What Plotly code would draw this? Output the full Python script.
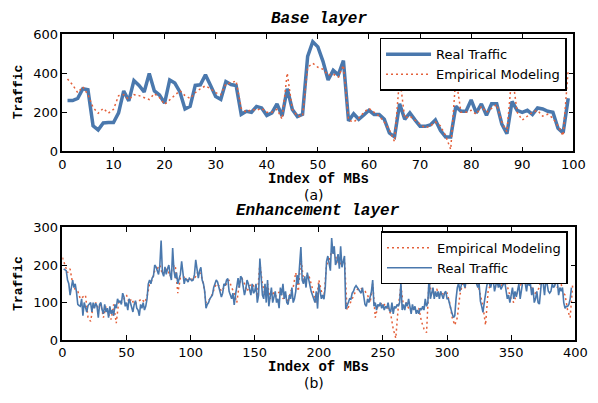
import plotly.graph_objects as go

W, H = 598, 403

# ---------------- data ----------------
base_real = [260, 260, 271, 320, 315, 131, 110, 145, 148, 148,
             197, 309, 258, 362, 337, 304, 398, 309, 288, 247,
             365, 349, 304, 217, 230, 337, 340, 391, 337, 280,
             266, 357, 342, 337, 189, 205, 200, 230, 222, 184,
             197, 243, 181, 320, 214, 178, 189, 485, 560, 534,
             460, 365, 414, 391, 464, 156, 192, 164, 186, 210,
             189, 189, 164, 94, 74, 243, 164, 197, 161, 128,
             128, 135, 161, 107, 74, 74, 230, 205, 205, 263,
             197, 243, 184, 243, 243, 140, 90, 255, 210, 200,
             210, 189, 222, 217, 205, 200, 118, 95, 271]

base_emp = [370, 340, 300, 330, 290, 225, 195, 220, 195, 215,
            285, 290, 265, 290, 285, 275, 265, 295, 275, 240,
            265, 285, 310, 285, 270, 300, 320, 335, 320, 300,
            290, 345, 350, 360, 220, 200, 215, 210, 220, 200,
            200, 215, 165, 400, 215, 180, 180, 430, 450, 430,
            420, 390, 395, 380, 440, 160, 150, 170, 200, 220,
            200, 180, 150, 110, 50, 380, 170, 180, 160, 140,
            120, 130, 150, 130, 80, 10, 380, 200, 200, 210,
            190, 230, 200, 220, 240, 150, 100, 400, 200, 160,
            180, 200, 210, 180, 190, 170, 130, 80, 420]

enh_real = [190, 188, 185, 160, 150, 120, 145, 160, 140, 150, 128, 95, 92, 90, 110, 65, 100, 88, 75, 92,
            95, 100, 75, 100, 85, 98, 90, 60, 95, 100, 80, 70, 95, 75, 85, 60, 90, 70, 80, 65,
            95, 85, 110, 100, 105, 95, 125, 115, 90, 100, 80, 110, 100, 90, 75, 95, 105, 85, 80, 65,
            95, 85, 100, 80, 90, 110, 150, 160, 150, 165, 170, 200, 195, 185, 175, 200, 265, 180, 170, 195,
            175, 190, 200, 175, 160, 245, 185, 165, 180, 150, 160, 175, 210, 170, 150, 165, 160, 155, 165, 160,
            158, 160, 175, 214, 180, 165, 185, 194, 160, 150, 130, 85, 95, 100, 110, 115, 120, 140, 150, 160,
            155, 140, 130, 115, 125, 150, 145, 160, 164, 130, 120, 110, 125, 94, 120, 150, 165, 140, 170, 165,
            140, 120, 135, 160, 150, 130, 120, 150, 125, 130, 150, 100, 120, 217, 150, 120, 110, 150, 100, 160,
            90, 110, 140, 100, 120, 130, 100, 110, 85, 140, 120, 150, 110, 130, 100, 95, 120, 110, 140, 100,
            110, 130, 173, 150, 200, 248, 160, 150, 170, 140, 180, 160, 150, 130, 120, 110, 100, 130, 84, 150,
            130, 110, 120, 109, 140, 210, 224, 200, 185, 272, 230, 250, 200, 210, 229, 190, 250, 194, 210, 224,
            83, 95, 100, 110, 109, 125, 130, 140, 145, 140, 135, 130, 125, 140, 120, 95, 90, 110, 100, 115,
            130, 160, 90, 100, 80, 95, 90, 100, 85, 95, 80, 90, 85, 100, 80, 75, 100, 70, 90, 85,
            95, 90, 100, 152, 80, 95, 80, 100, 90, 110, 85, 70, 95, 80, 90, 70, 80, 70, 85, 80,
            90, 80, 110, 90, 100, 168, 110, 130, 140, 110, 130, 115, 130, 110, 130, 120, 110, 125, 130, 110,
            110, 96, 80, 70, 60, 65, 110, 140, 152, 130, 145, 165, 150, 140, 160, 150, 170, 155, 165, 150,
            160, 170, 150, 140, 150, 104, 90, 74, 100, 130, 145, 160, 150, 140, 155, 160, 130, 150, 160, 140,
            150, 135, 145, 150, 155, 130, 110, 120, 100, 120, 140, 110, 130, 115, 130, 150, 110, 140, 155, 160,
            150, 130, 160, 145, 150, 120, 140, 100, 110, 130, 100, 96, 130, 170, 150, 120, 160, 150, 130, 125,
            130, 150, 140, 145, 160, 155, 120, 140, 130, 140, 100, 85, 90, 90, 95, 110, 140]

# empirical model of enhancement layer, read every 2 MBs (index 0, 2, 4, ...)
enh_emp = [220, 200, 180, 190, 150, 135, 130, 110, 115, 120, 60, 50, 90, 100, 85, 95, 60, 90, 70, 55,
           95, 45, 105, 100, 110, 120, 100, 110, 95, 100, 105, 110, 100, 115, 150, 160, 185, 190, 200, 175,
           185, 190, 170, 195, 200, 125, 165, 170, 165, 160, 165, 160, 170, 185, 175, 150, 100, 105, 115, 135,
           150, 145, 130, 140, 150, 160, 140, 125, 100, 150, 165, 150, 130, 145, 150, 140, 115, 205, 150, 120,
           150, 110, 130, 115, 125, 130, 110, 120, 100, 130, 140, 180, 130, 220, 160, 170, 175, 150, 120, 100,
           160, 130, 115, 200, 215, 235, 230, 215, 200, 210, 215, 80, 95, 110, 125, 135, 140, 135, 130, 120,
           100, 150, 60, 90, 95, 100, 90, 85, 70, 30, 5, 90, 145, 90, 100, 85, 80, 90, 75, 85,
           50, 30, 20, 165, 120, 130, 135, 120, 125, 120, 125, 100, 60, 40, 60, 120, 150, 140, 150, 160,
           155, 160, 150, 120, 90, 40, 130, 150, 160, 140, 150, 145, 150, 160, 130, 110, 100, 120, 140, 150,
           160, 150, 155, 140, 120, 130, 140, 175, 170, 150, 160, 165, 150, 140, 170, 130, 120, 80, 60, 150]

base_xticks = [0, 10, 20, 30, 40, 50, 60, 70, 80, 90, 100]
base_yticks = [0, 200, 400, 600]
enh_xticks = [0, 50, 100, 150, 200, 250, 300, 350, 400]
enh_yticks = [0, 100, 200, 300]

base_x = list(range(1, len(base_real) + 1))
enh_x = list(range(1, len(enh_real) + 1))
enh_emp_x = list(range(0, 2 * len(enh_emp), 2))

# ---------------- style ----------------
BLUE = "#4a78ad"
RED = "#e4603a"


def px(v):
    return v / W


def py(v):
    return 1 - v / H


fig = go.Figure()
fig.add_trace(go.Scatter(x=base_x, y=base_real, mode="lines", name="Real Traffic",
                         line=dict(color=BLUE, width=3.5), xaxis="x", yaxis="y", legend="legend"))
fig.add_trace(go.Scatter(x=base_x, y=base_emp, mode="lines", name="Empirical Modeling",
                         line=dict(color=RED, width=1.5, dash="2px,3px"), xaxis="x", yaxis="y",
                         legend="legend"))
fig.add_trace(go.Scatter(x=enh_emp_x, y=enh_emp, mode="lines", name="Empirical Modeling",
                         line=dict(color=RED, width=1.5, dash="2px,3px"), xaxis="x2", yaxis="y2",
                         legend="legend2"))
fig.add_trace(go.Scatter(x=enh_x, y=enh_real, mode="lines", name="Real Traffic",
                         line=dict(color=BLUE, width=1.6), xaxis="x2", yaxis="y2", legend="legend2"))

ax = dict(showline=True, linecolor="black", linewidth=1.5, mirror="ticks", ticks="inside",
          ticklen=5, tickwidth=1, tickcolor="black", showgrid=False, zeroline=False,
          tickfont=dict(family="DejaVu Sans", size=13, color="black"))

leg = dict(bordercolor="black", borderwidth=1.5, bgcolor="white", itemwidth=45,
           font=dict(family="DejaVu Sans", size=13, color="black"), tracegroupgap=0)

fig.update_layout(
    width=W, height=H, autosize=False,
    margin=dict(l=0, r=0, t=0, b=0),
    paper_bgcolor="white", plot_bgcolor="white",
    xaxis=dict(ax, domain=[px(60), px(585)], range=[0, 100], tickvals=base_xticks, anchor="y"),
    yaxis=dict(ax, domain=[py(150), py(28)], range=[0, 600], tickvals=base_yticks, anchor="x"),
    xaxis2=dict(ax, domain=[px(60), px(587)], range=[0, 400], tickvals=enh_xticks, anchor="y2"),
    yaxis2=dict(ax, domain=[py(346), py(229)], range=[0, 300], tickvals=enh_yticks, anchor="x2"),
    legend=dict(leg, x=px(578), xanchor="right", y=py(32), yanchor="top"),
    legend2=dict(leg, x=px(579), xanchor="right", y=py(233), yanchor="top"),
    showlegend=True,
)

mono_title = dict(family="Liberation Mono", size=16, color="black")
mono_lab = dict(family="Liberation Mono", size=14, color="black")
mono_y = dict(family="Liberation Mono", size=13, color="black")
sans = dict(family="DejaVu Sans", size=14, color="black")

annots = [
    dict(text="<b><i>Base layer</i></b>", x=px(324), y=py(12), font=mono_title),
    dict(text="<b>Index of MBs</b>", x=px(323), y=py(179), font=mono_lab),
    dict(text="(a)", x=px(319), y=py(195), font=sans),
    dict(text="<b>Traffic</b>", x=px(15), y=py(88), font=mono_y, textangle=-90),
    dict(text="<b><i>Enhancement layer</i></b>", x=px(323), y=py(212), font=mono_title),
    dict(text="<b>Index of MBs</b>", x=px(323), y=py(374), font=mono_lab),
    dict(text="(b)", x=px(319), y=py(391), font=sans),
    dict(text="<b>Traffic</b>", x=px(15), y=py(287), font=mono_y, textangle=-90),
]
for a in annots:
    fig.add_annotation(xref="paper", yref="paper", showarrow=False,
                       xanchor="center", yanchor="middle", **a)

fig.write_html("out.html")
